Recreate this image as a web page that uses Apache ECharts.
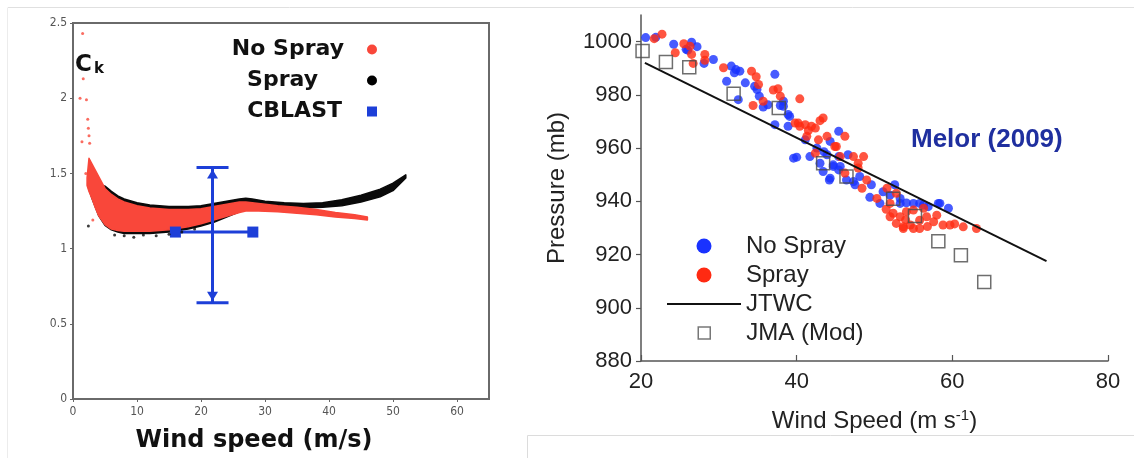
<!DOCTYPE html>
<html>
<head>
<meta charset="utf-8">
<script src="https://cdn.jsdelivr.net/npm/echarts@6.0.0/dist/echarts.min.js"></script>
<style>
  html, body { margin: 0; padding: 0; background: #ffffff; }
  #chart { width: 1134px; height: 458px; }
</style>
</head>
<body>
<div id="chart"></div>
<script>
// ---------- Left panel: enthalpy exchange coefficient Ck vs wind speed ----------
const ckWindTicks = [0, 10, 20, 30, 40, 50, 60];

// No Spray cloud, given as lower / upper envelope of the scattered points
const noSprayBandWind = [2.2, 2.5, 3, 3.5, 4, 5, 6, 7, 8, 10, 12, 15, 18, 20, 22, 24, 26, 27, 29, 32, 35, 38, 41, 44, 46];
const noSprayBandHigh = [1.47, 1.60, 1.56, 1.52, 1.48, 1.40, 1.36, 1.33, 1.31, 1.285, 1.27, 1.26, 1.26, 1.265, 1.28, 1.295, 1.31, 1.31, 1.30, 1.285, 1.275, 1.26, 1.24, 1.225, 1.21];
const noSprayBandLow  = [1.42, 1.38, 1.33, 1.27, 1.22, 1.16, 1.13, 1.12, 1.115, 1.115, 1.115, 1.125, 1.145, 1.165, 1.19, 1.215, 1.24, 1.25, 1.25, 1.245, 1.235, 1.225, 1.21, 1.20, 1.19];
// isolated No Spray points at the lowest wind speeds
const noSprayStray = [[1.5, 2.43], [1.6, 2.13], [1.1, 2.0], [2.1, 1.99], [1.4, 1.71], [2.3, 1.86], [2.4, 1.80], [2.5, 1.75], [2.6, 1.70], [2.0, 1.50], [3.1, 1.19]];

// Spray cloud envelope
const sprayBandWind = [2.3, 3, 4, 5, 6, 7, 8, 10, 12, 15, 18, 20, 22, 24, 26, 27, 28, 30, 33, 36, 39, 42, 45, 48, 50, 52];
const sprayBandHigh = [1.44, 1.45, 1.43, 1.415, 1.38, 1.35, 1.33, 1.305, 1.29, 1.28, 1.28, 1.285, 1.30, 1.315, 1.33, 1.335, 1.33, 1.315, 1.305, 1.30, 1.305, 1.325, 1.355, 1.395, 1.435, 1.49];
const sprayBandLow  = [1.42, 1.33, 1.22, 1.155, 1.125, 1.11, 1.10, 1.10, 1.10, 1.11, 1.13, 1.15, 1.175, 1.21, 1.245, 1.26, 1.27, 1.27, 1.27, 1.27, 1.275, 1.285, 1.31, 1.345, 1.385, 1.47];
const sprayStray = [[2.4, 1.15], [6.5, 1.09], [8, 1.085], [9.5, 1.075], [11, 1.09], [13, 1.085], [15, 1.095], [17, 1.11], [19, 1.13]];

// CBLAST observation: mean and range in wind speed and Ck
const cblastMean = [21.8, 1.11];
const cblastWindRange = [16.0, 28.1];
const cblastCkRange = [0.64, 1.54];

// ---------- Right panel: Typhoon Melor (2009) pressure-wind relation ----------
const windTicks = [20, 40, 60, 80];
const pressureTicks = [880, 900, 920, 940, 960, 980, 1000];

const noSprayPts = [
  [20.6, 1001.5], [21.9, 1001.6], [24.2, 999.0], [25.8, 997.1], [26.5, 999.8], [27.2, 998.1], [26.0, 996.8],
  [28.1, 991.8], [29.3, 993.3], [31.0, 985.1], [31.6, 990.8], [32.2, 989.5], [32.7, 988.9], [32.0, 988.3],
  [33.4, 984.5], [34.6, 983.2], [34.9, 982.0], [35.2, 979.5], [35.7, 975.4], [36.3, 976.3], [32.5, 978.2],
  [37.2, 987.7], [37.9, 976.0], [38.3, 977.6], [38.3, 975.7], [39.1, 971.9], [38.9, 968.2], [37.2, 968.8],
  [38.9, 972.6], [40.0, 956.6], [41.7, 956.8], [41.1, 963.1], [43.0, 954.3], [43.4, 951.2], [44.7, 953.1],
  [44.2, 948.0], [45.6, 953.1], [46.4, 948.0], [47.3, 947.4], [45.4, 966.3], [44.3, 962.5], [39.6, 956.2],
  [43.9, 957.5], [45.4, 956.8], [46.6, 957.5], [44.7, 953.7], [45.4, 951.8], [44.3, 948.7], [48.1, 949.3],
  [47.5, 946.2], [49.6, 946.2], [49.4, 941.5], [51.1, 943.6], [52.6, 946.2], [53.3, 941.1], [50.7, 939.2],
  [54.1, 939.4], [55.8, 939.2], [56.9, 938.0], [58.4, 939.2], [59.5, 937.4], [52.0, 942.3], [53.3, 939.2],
  [55.0, 939.2], [56.3, 938.6], [58.2, 939.2], [42.6, 960.0], [43.5, 958.6]
];
const sprayPts = [
  [21.7, 1001.1], [22.7, 1002.8], [25.5, 999.2], [26.3, 998.3], [24.4, 995.8], [26.5, 995.2], [26.7, 991.8],
  [28.2, 995.2], [28.2, 993.0], [30.6, 990.2], [34.2, 988.9], [34.8, 986.8], [35.1, 983.9], [34.4, 976.0],
  [35.7, 977.6], [37.0, 981.8], [37.6, 982.3], [37.9, 979.5], [40.4, 978.5], [39.8, 969.4], [40.4, 968.2],
  [41.5, 966.6], [42.4, 967.5], [43.4, 971.3], [41.3, 964.4], [42.8, 963.1], [43.9, 964.4], [45.1, 960.6],
  [46.2, 964.4], [45.6, 956.8], [47.3, 956.8], [47.9, 954.3], [40.2, 969.4], [41.1, 968.8], [41.9, 968.2],
  [43.0, 970.3], [44.9, 960.6], [42.4, 958.1], [48.6, 956.8], [46.2, 950.6], [47.9, 952.5], [49.0, 948.0],
  [48.4, 944.9], [50.3, 941.1], [51.6, 944.9], [52.8, 943.0], [52.0, 939.2], [52.4, 935.5], [53.3, 934.2],
  [54.1, 936.1], [52.8, 931.7], [54.6, 931.1], [55.8, 932.9], [56.7, 934.2], [57.6, 932.3], [58.8, 931.1],
  [59.7, 931.1], [58.0, 934.8], [55.0, 936.7], [56.3, 937.4], [53.7, 929.8], [55.8, 929.8], [52.0, 934.2],
  [53.7, 930.4], [55.0, 929.8], [61.4, 930.4], [63.1, 929.8], [60.3, 931.5], [54.0, 933.0], [51.5, 937.0],
  [56.8, 930.5]
];
const jtwcPts = [[20.5, 992.0], [72.1, 917.5]];
const jmaPts = [
  [20.2, 996.5], [23.2, 992.3], [26.2, 990.4], [31.9, 980.4], [37.7, 975.1], [43.4, 954.3],
  [46.4, 949.3], [52.4, 941.0], [55.2, 934.5], [58.2, 925.0], [61.1, 919.7], [64.1, 909.7]
];

// ---------- colours ----------
const leftRed = '#f9473a';
const blue = '#1932ff';
const red = '#ff2a12';
const cblastBlue = '#1d3fd8';

// Fills the region between the lower and upper envelope of a point cloud
function bandRenderer(xs, lo, hi) {
  return function (params, api) {
    if (params.dataIndex !== 0) return null;
    const upper = xs.map((x, i) => api.coord([x, hi[i]]));
    const lower = xs.map((x, i) => api.coord([x, lo[i]])).reverse();
    const col = api.visual('color');
    return {
      type: 'polygon',
      shape: { points: upper.concat(lower) },
      style: { fill: col, stroke: col, lineWidth: 1.5, lineJoin: 'round' }
    };
  };
}

// Cross-shaped error bars with end squares and arrowed caps
function cblastRenderer(params, api) {
  const c = [api.value(0), api.value(1)];
  const l = api.coord([api.value(2), c[1]]);
  const r = api.coord([api.value(3), c[1]]);
  const b = api.coord([c[0], api.value(4)]);
  const t = api.coord([c[0], api.value(5)]);
  const col = api.visual('color');
  const ls = { stroke: col, lineWidth: 3 };
  const cap = 16, ah = 9, aw = 5.5, sq = 11;
  return {
    type: 'group',
    children: [
      { type: 'line', shape: { x1: l[0], y1: l[1], x2: r[0], y2: r[1] }, style: ls },
      { type: 'line', shape: { x1: t[0], y1: t[1], x2: b[0], y2: b[1] }, style: ls },
      { type: 'line', shape: { x1: t[0] - cap, y1: t[1], x2: t[0] + cap, y2: t[1] }, style: ls },
      { type: 'line', shape: { x1: b[0] - cap, y1: b[1], x2: b[0] + cap, y2: b[1] }, style: ls },
      { type: 'polygon', shape: { points: [[t[0], t[1] + 2], [t[0] - aw, t[1] + 2 + ah], [t[0] + aw, t[1] + 2 + ah]] }, style: { fill: col } },
      { type: 'polygon', shape: { points: [[b[0], b[1] - 2], [b[0] - aw, b[1] - 2 - ah], [b[0] + aw, b[1] - 2 - ah]] }, style: { fill: col } },
      { type: 'rect', shape: { x: l[0] - sq / 2, y: l[1] - sq / 2, width: sq, height: sq }, style: { fill: col } },
      { type: 'rect', shape: { x: r[0] - sq / 2, y: r[1] - sq / 2, width: sq, height: sq }, style: { fill: col } }
    ]
  };
}

const chart = echarts.init(document.getElementById('chart'), null, { renderer: 'canvas' });

const leftTick = { fontFamily: 'DejaVu Sans Condensed', fontSize: 12, color: '#555' };
const rightTick = { fontFamily: 'Liberation Sans', fontSize: 22, color: '#222', formatter: v => String(v) };
const rightLegendText = { fontFamily: 'Liberation Sans', fontSize: 24, lineHeight: 24, color: '#222' };

chart.setOption({
  animation: false,
  backgroundColor: '#ffffff',
  title: [
    {
      text: '{c|C}{k|k}', left: 75, top: 53, padding: 0,
      textStyle: {
        rich: {
          c: { fontFamily: 'DejaVu Sans', fontWeight: 'bold', fontSize: 23, color: '#111', verticalAlign: 'bottom', lineHeight: 24 },
          k: { fontFamily: 'DejaVu Sans', fontWeight: 'bold', fontSize: 15, color: '#111', verticalAlign: 'bottom', lineHeight: 10, padding: [0, 0, 0, 2] }
        }
      }
    },
    {
      text: 'Melor (2009)', left: 911, top: 127, padding: 0,
      textStyle: { fontFamily: 'Liberation Sans', fontWeight: 'bold', fontSize: 26, color: '#1f2f9f' }
    }
  ],
  legend: [
    {
      orient: 'vertical', align: 'right', right: 757, top: 38, padding: 0,
      itemWidth: 10, itemHeight: 10, itemGap: 8, selectedMode: false,
      textStyle: { fontFamily: 'DejaVu Sans', fontWeight: 'bold', fontSize: 22, lineHeight: 23, color: '#111' },
      data: [
        { name: 'No Spray', icon: 'circle', itemStyle: { color: leftRed }, textStyle: { padding: [0, 18, 0, 0] } },
        { name: 'Spray', icon: 'circle', itemStyle: { color: '#000' }, textStyle: { padding: [0, 44, 0, 0] } },
        { name: 'CBLAST', icon: 'rect', itemStyle: { color: cblastBlue }, textStyle: { padding: [0, 20, 0, 0] } }
      ]
    },
    {
      // circle icons sit centred in a 74px slot; the box starts at the circle's edge
      orient: 'vertical', left: 696.5, top: 234, padding: 0,
      itemWidth: 74, itemHeight: 15, itemGap: 5, selectedMode: false,
      textStyle: rightLegendText,
      data: [
        { name: 'No Spray', icon: 'circle', itemStyle: { color: blue } },
        { name: 'Spray', icon: 'circle', itemStyle: { color: red } }
      ]
    },
    {
      orient: 'vertical', left: 667, top: 292, padding: 0,
      itemWidth: 74, itemHeight: 2, selectedMode: false,
      textStyle: rightLegendText,
      data: [
        { name: 'JTWC', icon: 'rect', itemStyle: { color: '#111', borderWidth: 0 } }
      ]
    },
    {
      orient: 'vertical', left: 697.5, top: 321, padding: 0,
      itemWidth: 74, itemHeight: 12, selectedMode: false,
      textStyle: rightLegendText,
      data: [
        { name: 'JMA (Mod)', icon: 'path://M0,0H10V10H0Z', itemStyle: { color: 'rgba(255,255,255,0)', borderColor: '#555', borderWidth: 1.5 } }
      ]
    }
  ],
  grid: [
    { left: 73, top: 23, width: 416, height: 376, show: true, borderColor: '#6a6a6a', borderWidth: 2, backgroundColor: 'transparent' },
    { left: 641, top: 15, width: 467, height: 346 }
  ],
  xAxis: [
    {
      gridIndex: 0, type: 'value', min: 0, max: 65, interval: 10,
      name: 'Wind speed (m/s)', nameLocation: 'middle', nameGap: 30,
      nameTextStyle: { fontFamily: 'DejaVu Sans', fontWeight: 'bold', fontSize: 24, color: '#111', padding: [0, 54, 0, 0] },
      axisLine: { show: true, lineStyle: { color: '#6a6a6a', width: 2 } },
      axisTick: { show: true, length: 3, customValues: ckWindTicks, lineStyle: { color: '#666' } },
      axisLabel: Object.assign({ margin: 7, customValues: ckWindTicks }, leftTick),
      splitLine: { show: false }
    },
    {
      gridIndex: 1, type: 'value', min: 20, max: 80, interval: 20,
      name: '{a|Wind Speed (m s}{b|-1}{a|)}', nameLocation: 'middle', nameGap: 47,
      nameTextStyle: {
        rich: {
          a: { fontFamily: 'Liberation Sans', fontSize: 24, color: '#222', lineHeight: 26 },
          b: { fontFamily: 'Liberation Sans', fontSize: 15, color: '#222', lineHeight: 16, verticalAlign: 'top' }
        }
      },
      axisLine: { show: true, lineStyle: { color: '#555', width: 1.5 } },
      axisTick: { show: true, inside: true, length: 6, customValues: windTicks, lineStyle: { color: '#555', width: 1.2 } },
      axisLabel: Object.assign({ margin: 10, customValues: windTicks }, rightTick),
      splitLine: { show: false }
    }
  ],
  yAxis: [
    {
      gridIndex: 0, type: 'value', min: 0, max: 2.5, interval: 0.5,
      axisLine: { show: true, lineStyle: { color: '#6a6a6a', width: 2 } },
      axisTick: { show: true, length: 3, lineStyle: { color: '#666' } },
      axisLabel: Object.assign({ margin: 6 }, leftTick),
      splitLine: { show: false }
    },
    {
      gridIndex: 1, type: 'value', min: 880, max: 1010, interval: 20,
      name: 'Pressure (mb)', nameLocation: 'middle', nameGap: 72,
      nameTextStyle: { fontFamily: 'Liberation Sans', fontSize: 24, color: '#222' },
      axisLine: { show: true, lineStyle: { color: '#555', width: 1.5 } },
      axisTick: { show: true, length: 5, customValues: pressureTicks, lineStyle: { color: '#555', width: 1.2 } },
      axisLabel: Object.assign({ margin: 9, customValues: pressureTicks }, rightTick),
      splitLine: { show: false }
    }
  ],
  series: [
    {
      name: 'Spray', type: 'custom', xAxisIndex: 0, yAxisIndex: 0,
      itemStyle: { color: '#0a0a0a' },
      encode: { x: 0, y: [1, 2] },
      data: sprayBandWind.map((w, i) => [w, sprayBandLow[i], sprayBandHigh[i]]),
      renderItem: bandRenderer(sprayBandWind, sprayBandLow, sprayBandHigh)
    },
    {
      name: 'Spray', type: 'scatter', xAxisIndex: 0, yAxisIndex: 0,
      symbolSize: 3, itemStyle: { color: '#0a0a0a' }, data: sprayStray
    },
    {
      name: 'No Spray', type: 'custom', xAxisIndex: 0, yAxisIndex: 0,
      itemStyle: { color: leftRed },
      encode: { x: 0, y: [1, 2] },
      data: noSprayBandWind.map((w, i) => [w, noSprayBandLow[i], noSprayBandHigh[i]]),
      renderItem: bandRenderer(noSprayBandWind, noSprayBandLow, noSprayBandHigh)
    },
    {
      name: 'No Spray', type: 'scatter', xAxisIndex: 0, yAxisIndex: 0,
      symbolSize: 3, itemStyle: { color: leftRed }, data: noSprayStray
    },
    {
      name: 'CBLAST', type: 'custom', xAxisIndex: 0, yAxisIndex: 0,
      itemStyle: { color: cblastBlue },
      encode: { x: [0, 2, 3], y: [1, 4, 5] },
      data: [[cblastMean[0], cblastMean[1], cblastWindRange[0], cblastWindRange[1], cblastCkRange[0], cblastCkRange[1]]],
      renderItem: cblastRenderer
    },
    {
      name: 'No Spray', type: 'scatter', xAxisIndex: 1, yAxisIndex: 1,
      symbolSize: 9, itemStyle: { color: blue }, data: noSprayPts
    },
    {
      name: 'Spray', type: 'scatter', xAxisIndex: 1, yAxisIndex: 1,
      symbolSize: 9, itemStyle: { color: red }, data: sprayPts
    },
    {
      name: 'JMA (Mod)', type: 'scatter', xAxisIndex: 1, yAxisIndex: 1,
      symbol: 'rect', symbolSize: 13,
      itemStyle: { color: 'rgba(0,0,0,0)', borderColor: '#4a4a4a', borderWidth: 1.5 },
      data: jmaPts
    },
    {
      name: 'JTWC', type: 'line', xAxisIndex: 1, yAxisIndex: 1,
      symbol: 'none', lineStyle: { color: '#111', width: 2 }, data: jtwcPts
    }
  ],
  graphic: [
    { type: 'line', silent: true, shape: { x1: 8, y1: 7.5, x2: 1134, y2: 7.5 }, style: { stroke: '#e0e0e0', lineWidth: 1 } },
    { type: 'line', silent: true, shape: { x1: 7.5, y1: 7.5, x2: 7.5, y2: 458 }, style: { stroke: '#ececec', lineWidth: 1 } },
    { type: 'line', silent: true, shape: { x1: 527.5, y1: 435.5, x2: 1134, y2: 435.5 }, style: { stroke: '#dcdcdc', lineWidth: 1 } },
    { type: 'line', silent: true, shape: { x1: 527.5, y1: 435.5, x2: 527.5, y2: 458 }, style: { stroke: '#dcdcdc', lineWidth: 1 } }
  ]
});
</script>
</body>
</html>
